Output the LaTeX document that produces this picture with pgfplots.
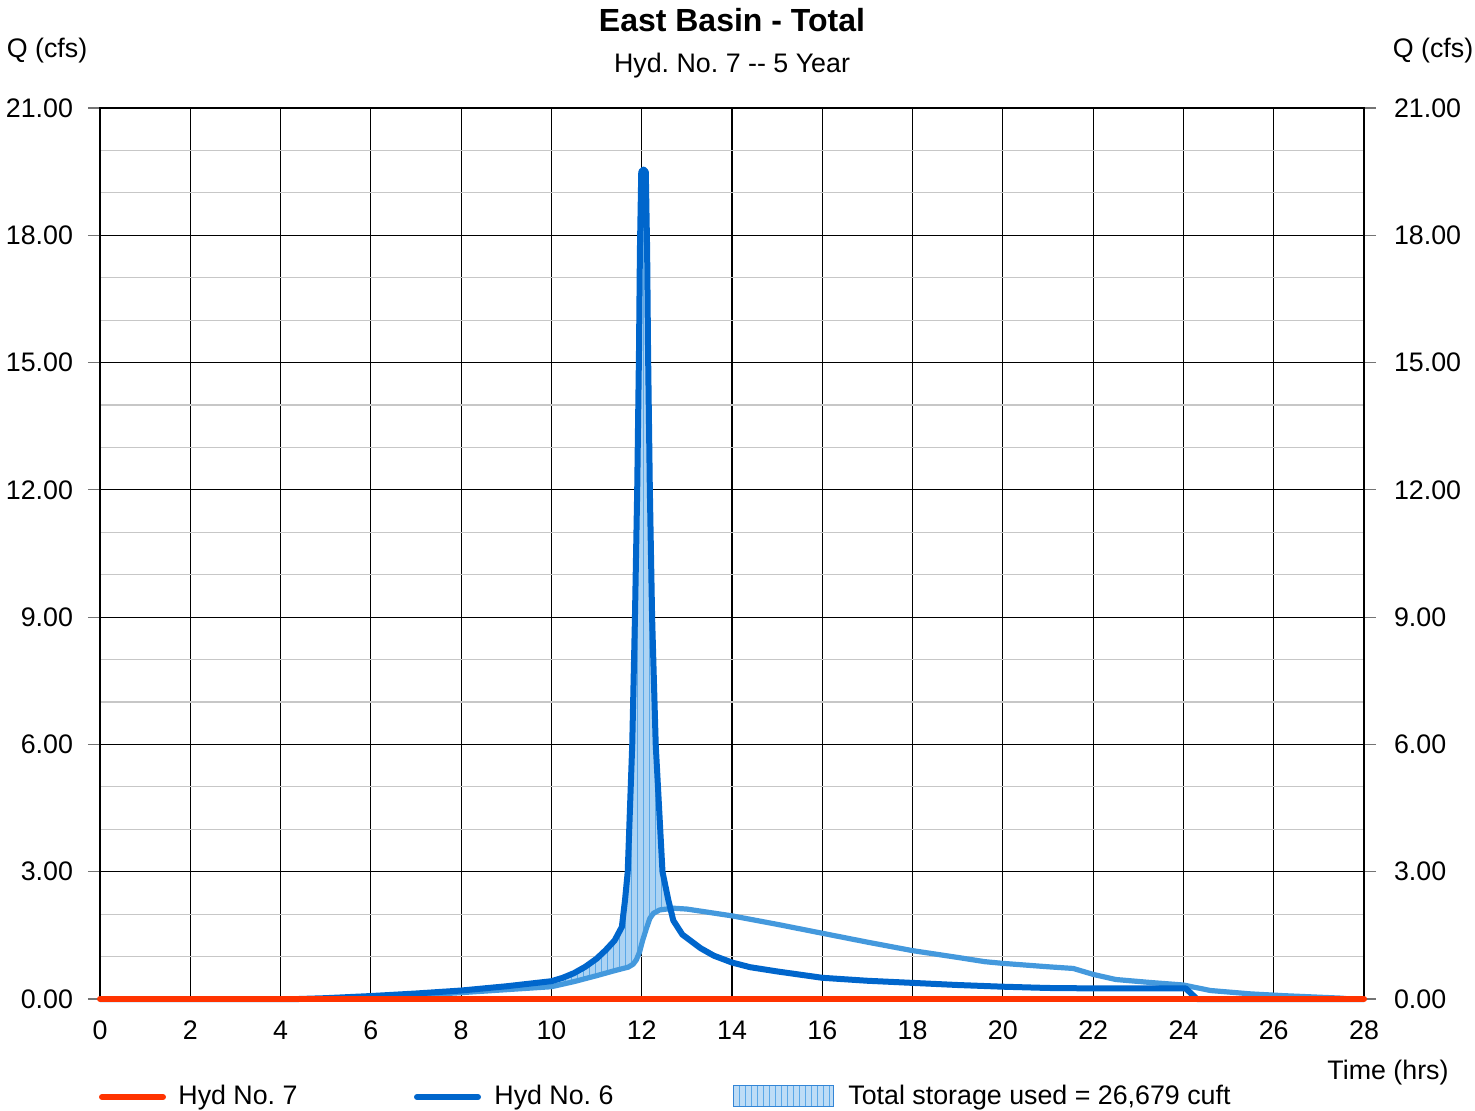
\documentclass[border=0pt]{standalone}
\usepackage{fontspec}
\setmainfont{Liberation Sans}
\usepackage{pgfplots}
\pgfplotsset{compat=1.18}
\usetikzlibrary{patterns}
\definecolor{hredc}{HTML}{FF3300}
\definecolor{hdblue}{HTML}{0066CC}
\definecolor{hlblue}{HTML}{4499DD}
\definecolor{hhatch}{HTML}{5AA8E8}
\newcommand{\tf}{\fontsize{13.4}{16}\selectfont}
\frenchspacing
\begin{document}
\frenchspacing
\begin{tikzpicture}
\useasboundingbox (-50pt,-55.5pt) rectangle (687.5pt,499.5pt);
\begin{axis}[
  at={(0,0)}, anchor=south west, scale only axis,
  width=632pt, height=445.5pt,
  xmin=0, xmax=28, ymin=0, ymax=21,
  xtick={0,2,...,28}, ytick={0,3,...,21},
  minor y tick num=2,
  grid=both,
  major grid style={black, line width=0.6pt},
  minor grid style={black!22, line width=0.6pt},
  axis line style={black, line width=0.6pt},
  tick align=outside, major tick length=6pt, minor tick length=0pt,
  xtick style={draw=none},
  ytick style={black!55, line width=0.6pt},
  ticklabel style={font=\tf},
  /pgf/number format/assume math mode=true,
  yticklabel style={/pgf/number format/fixed, /pgf/number format/fixed zerofill, /pgf/number format/precision=2, xshift=-4pt},
  xticklabel style={yshift=-1.5pt},
  clip=false,
]
% storage region: Hyd 6 (upper) forward, light curve (lower) backward
\addplot[fill=hhatch!50, draw=none, forget plot] coordinates {
(8.5,0.25) (9,0.3) (9.5,0.36) (10,0.42) (10.25,0.5) (10.5,0.61) (10.75,0.76) (11,0.95) (11.2,1.15) (11.4,1.38) (11.56,1.7)
(11.63,2.33) (11.69,3.0) (11.79,6.0) (11.85,9.0) (11.9,12.0) (11.94,15.3) (11.96,17.65) (11.99,19.5)
(12.04,19.55) (12.09,19.5) (12.12,17.65) (12.14,15.3) (12.18,12.0) (12.23,9.0) (12.31,6.0) (12.46,3.0)
(12.59,2.33) (12.64,2.14)
(12.4,2.1) (12.26,2.02) (12.18,1.9) (12.1,1.65) (12.02,1.38) (11.95,1.1) (11.88,0.92) (11.81,0.82) (11.7,0.75)
(11.44,0.68) (11,0.55) (10.5,0.41) (10,0.29) (9,0.22) (8.5,0.185)} -- cycle;
\addplot[pattern=vertical lines, pattern color=hhatch, draw=none, forget plot] coordinates {
(8.5,0.25) (9,0.3) (9.5,0.36) (10,0.42) (10.25,0.5) (10.5,0.61) (10.75,0.76) (11,0.95) (11.2,1.15) (11.4,1.38) (11.56,1.7)
(11.63,2.33) (11.69,3.0) (11.79,6.0) (11.85,9.0) (11.9,12.0) (11.94,15.3) (11.96,17.65) (11.99,19.5)
(12.04,19.55) (12.09,19.5) (12.12,17.65) (12.14,15.3) (12.18,12.0) (12.23,9.0) (12.31,6.0) (12.46,3.0)
(12.59,2.33) (12.64,2.14)
(12.4,2.1) (12.26,2.02) (12.18,1.9) (12.1,1.65) (12.02,1.38) (11.95,1.1) (11.88,0.92) (11.81,0.82) (11.7,0.75)
(11.44,0.68) (11,0.55) (10.5,0.41) (10,0.29) (9,0.22) (8.5,0.185)} -- cycle;
\addplot[hlblue, line width=2.6pt, line join=round] coordinates {
(0,0) (4.5,0) (6,0.03) (8,0.15) (9,0.22) (10,0.29) (10.5,0.41) (11,0.55) (11.44,0.68)
(11.7,0.75) (11.81,0.82) (11.88,0.92) (11.95,1.1) (12.02,1.38) (12.1,1.65) (12.18,1.9) (12.26,2.02) (12.4,2.1)
(12.7,2.14) (13,2.12) (14,1.96) (15,1.76) (16,1.55) (17,1.34) (18,1.14) (19,0.98) (19.6,0.88)
(20,0.84) (21,0.76) (21.56,0.72) (22,0.58) (22.5,0.46) (23.26,0.39) (24,0.33) (24.6,0.2)
(25.5,0.12) (26.2,0.08) (27.5,0.02) (27.7,0)};
\addplot[hdblue, line width=3pt, line join=round] coordinates {
(0,0) (4.4,0) (5,0.02) (6,0.07) (7,0.13) (8,0.2) (8.5,0.25) (9,0.3) (9.5,0.36) (10,0.42)
(10.25,0.5) (10.5,0.61) (10.75,0.76) (11,0.95) (11.2,1.15) (11.4,1.38) (11.56,1.7)
(11.63,2.33) (11.69,3.0) (11.79,6.0) (11.85,9.0) (11.9,12.0) (11.94,15.3) (11.96,17.65) (11.99,19.5)
(12.04,19.55) (12.09,19.5) (12.12,17.65) (12.14,15.3) (12.18,12.0) (12.23,9.0) (12.31,6.0) (12.46,3.0)
(12.59,2.33) (12.7,1.85) (12.9,1.52) (13.3,1.2) (13.6,1.02) (14,0.86) (14.4,0.75)
(15,0.65) (16,0.5) (17,0.43) (18,0.38) (19,0.33) (20,0.29) (21,0.26) (22,0.25) (23,0.25)
(24.05,0.25) (24.3,0) (28,0)};
\addplot[hredc, line width=3pt, line cap=round] coordinates {(0,0) (28,0)};
\end{axis}
\begin{axis}[
  at={(0,0)}, anchor=south west, scale only axis,
  width=632pt, height=445.5pt,
  xmin=0, xmax=28, ymin=0, ymax=21,
  xtick=\empty, ytick={0,3,...,21},
  yticklabel pos=right,
  axis line style={draw=none},
  tick style={draw=none},
  ticklabel style={font=\tf},
  /pgf/number format/assume math mode=true,
  yticklabel style={/pgf/number format/fixed, /pgf/number format/fixed zerofill, /pgf/number format/precision=2, xshift=11.5pt},
]
\addplot[draw=none] coordinates {(0,0) (28,21)};
\end{axis}
\node[font=\bfseries\fontsize{16}{19}\selectfont] at (316pt,489.5pt) {East Basin - Total};
\node[font=\tf] at (316pt,466.5pt) {Hyd. No. 7 -{}- 5 Year};
\node[font=\tf] at (-26.5pt,474pt) {Q (cfs)};
\node[font=\tf] at (666.5pt,474pt) {Q (cfs)};
\node[font=\tf] at (644pt,-37pt) {Time (hrs)};
\draw[hredc, line width=3pt, line cap=round] (1pt,-49pt) -- (31.5pt,-49pt);
\node[font=\tf, anchor=west, inner sep=0pt] at (39pt,-49.5pt) {Hyd No. 7};
\draw[hdblue, line width=3pt, line cap=round] (158.5pt,-49pt) -- (189pt,-49pt);
\node[font=\tf, anchor=west, inner sep=0pt] at (197pt,-49.5pt) {Hyd No. 6};
\fill[hhatch!40] (316.5pt,-53.5pt) rectangle (366.5pt,-43pt);
\draw[hdblue!80, line width=0.5pt, pattern=vertical lines, pattern color=hhatch] (316.5pt,-53.5pt) rectangle (366.5pt,-43pt);
\node[font=\tf, anchor=west, inner sep=0pt] at (374pt,-49.5pt) {Total storage used = 26,679 cuft};
\end{tikzpicture}
\end{document}
